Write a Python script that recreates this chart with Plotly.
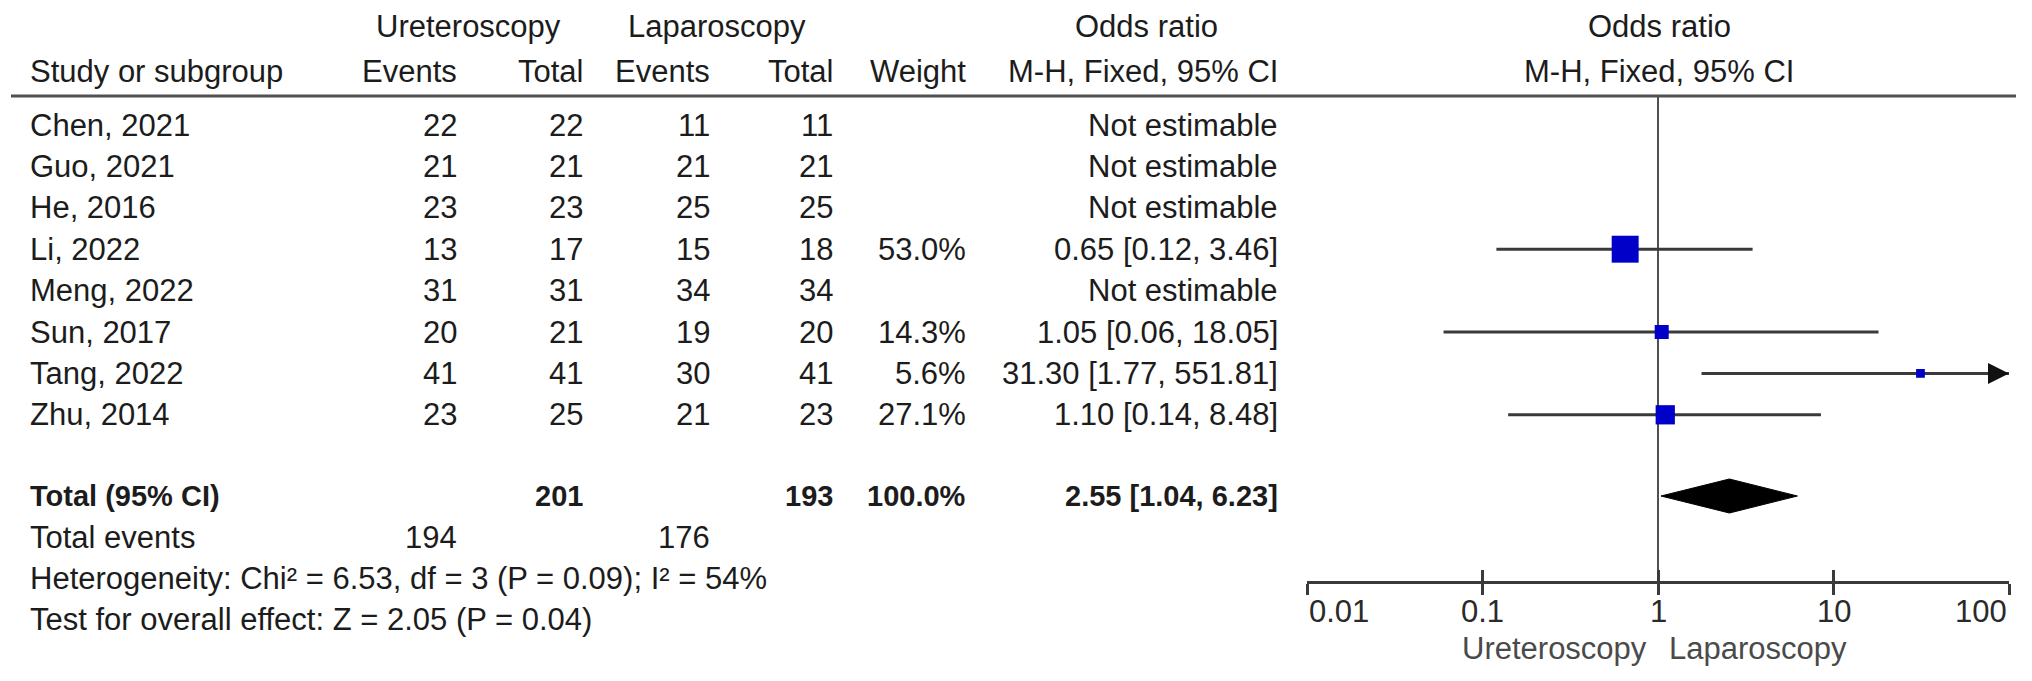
import math
import plotly.graph_objects as go

W, H = 2032, 681

# ---------------- data ----------------
studies = ["Chen, 2021", "Guo, 2021", "He, 2016", "Li, 2022", "Meng, 2022",
           "Sun, 2017", "Tang, 2022", "Zhu, 2014"]
uret_events = [22, 21, 23, 13, 31, 20, 41, 23]
uret_total = [22, 21, 23, 17, 31, 21, 41, 25]
lap_events = [11, 21, 25, 15, 34, 19, 30, 21]
lap_total = [11, 21, 25, 18, 34, 20, 41, 23]
weights = [None, None, None, 53.0, None, 14.3, 5.6, 27.1]
or_est = [None, None, None, 0.65, None, 1.05, 31.30, 1.10]
ci_lo = [None, None, None, 0.12, None, 0.06, 1.77, 0.14]
ci_hi = [None, None, None, 3.46, None, 18.05, 551.81, 8.48]

total_uret = 201
total_lap = 193
total_weight = 100.0
total_or = 2.55
total_lo = 1.04
total_hi = 6.23
events_uret = 194
events_lap = 176
heterogeneity = "Heterogeneity: Chi² = 6.53, df = 3 (P = 0.09); I² = 54%"
overall = "Test for overall effect: Z = 2.05 (P = 0.04)"

tick_vals = [0.01, 0.1, 1, 10, 100]
tick_text = ["0.01", "0.1", "1", "10", "100"]
favours_left = "Ureteroscopy"
favours_right = "Laparoscopy"
null_value = 1

# ---------------- layout constants ----------------
FONT = "Liberation Sans, Arial, sans-serif"
FS = 31
FS_BOLD = 29
TXT = "#1c1c1c"
LINE = "#3a3a3a"
BLUE = "#0000c8"

ROW0_PX = 125.0
STEP_PX = 41.4
y_top = -ROW0_PX / STEP_PX
y_bot = (H - ROW0_PX) / STEP_PX


def row_of(pix):
    return (pix - ROW0_PX) / STEP_PX


study_rows = list(range(len(studies)))
total_row = row_of(496)
events_row = row_of(537)
het_row = row_of(578)
test_row = row_of(619)
head1_row = row_of(26)
head2_row = row_of(71)
rule_row = row_of(96)
axis_px = 582
axis_row = row_of(axis_px)
ticklab_row = row_of(611)
favour_row = row_of(648)

AX_L, AX_R = 1307, 2009

# column right edges (pixels)
X_STUDY = 28
X_UE = 459
X_UT = 585
X_LE = 712
X_LT = 835
X_W = 968
X_OR = 1280

fig = go.Figure()
ann = []


def txt(x, y, s, anchor="right", bold=False, color=TXT, size=None):
    if size is None:
        size = FS_BOLD if bold else FS
    ann.append(dict(x=x / W, xref="paper", y=y, yref="y", text=(f"<b>{s}</b>" if bold else s),
                    showarrow=False, xanchor=anchor, yanchor="middle",
                    font=dict(family=FONT, size=size, color=color)))


# headers
txt(468, head1_row, "Ureteroscopy", "center")
txt(717, head1_row, "Laparoscopy", "center")
txt(1146, head1_row, "Odds ratio", "center")
txt(1659, head1_row, "Odds ratio", "center")
txt(X_STUDY, head2_row, "Study or subgroup", "left")
txt(X_UE, head2_row, "Events")
txt(X_UT, head2_row, "Total")
txt(X_LE, head2_row, "Events")
txt(X_LT, head2_row, "Total")
txt(X_W, head2_row, "Weight")
txt(X_OR, head2_row, "M-H, Fixed, 95% CI")
txt(1659, head2_row, "M-H, Fixed, 95% CI", "center")

# study rows
for i, r in enumerate(study_rows):
    txt(X_STUDY, r, studies[i], "left")
    txt(X_UE, r, str(uret_events[i]))
    txt(X_UT, r, str(uret_total[i]))
    txt(X_LE, r, str(lap_events[i]))
    txt(X_LT, r, str(lap_total[i]))
    if weights[i] is not None:
        txt(X_W, r, f"{weights[i]:.1f}%")
        txt(X_OR, r, f"{or_est[i]:.2f} [{ci_lo[i]:.2f}, {ci_hi[i]:.2f}]")
    else:
        txt(X_OR, r, "Not estimable")

# totals
txt(X_STUDY, total_row, "Total (95% CI)", "left", bold=True)
txt(X_UT, total_row, str(total_uret), bold=True)
txt(X_LT, total_row, str(total_lap), bold=True)
txt(X_W, total_row, f"{total_weight:.1f}%", bold=True)
txt(X_OR, total_row, f"{total_or:.2f} [{total_lo:.2f}, {total_hi:.2f}]", bold=True)
txt(X_STUDY, events_row, "Total events", "left")
txt(X_UE, events_row, str(events_uret))
txt(X_LE, events_row, str(events_lap))
txt(X_STUDY, het_row, heterogeneity, "left")
txt(X_STUDY, test_row, overall, "left")

# tick labels for the forest axis
for j, (v, t) in enumerate(zip(tick_vals, tick_text)):
    anchor = "left" if j == 0 else ("right" if j == len(tick_vals) - 1 else "center")
    ann.append(dict(x=math.log10(v), xref="x", y=ticklab_row, yref="y", text=t,
                    showarrow=False, xanchor=anchor, yanchor="middle",
                    font=dict(family=FONT, size=FS, color="#2a2a2a")))
ann.append(dict(x=math.log10(null_value), xref="x", y=favour_row, yref="y", text=favours_left,
                showarrow=False, xanchor="right", yanchor="middle", xshift=-9,
                font=dict(family=FONT, size=FS, color="#4a4a4a")))
ann.append(dict(x=math.log10(null_value), xref="x", y=favour_row, yref="y", text=favours_right,
                showarrow=False, xanchor="left", yanchor="middle", xshift=9,
                font=dict(family=FONT, size=FS, color="#4a4a4a")))

# null line
fig.add_trace(go.Scatter(x=[null_value, null_value], y=[rule_row, axis_row], mode="lines",
                         line=dict(color="#505050", width=2), hoverinfo="skip", showlegend=False))

# CI lines + squares
xmax = tick_vals[-1]
xmin = tick_vals[0]
for i, r in enumerate(study_rows):
    if or_est[i] is None:
        continue
    lo = max(ci_lo[i], xmin)
    hi = min(ci_hi[i], xmax)
    fig.add_trace(go.Scatter(x=[lo, hi], y=[r, r], mode="lines",
                             line=dict(color=LINE, width=3), hoverinfo="skip", showlegend=False))
    if ci_hi[i] > xmax:
        ann.append(dict(x=math.log10(xmax), xref="x", y=r, yref="y", text="", showarrow=True,
                        ax=-20, ay=0, axref="pixel", ayref="pixel", arrowhead=2, arrowsize=1.4,
                        arrowwidth=3, arrowcolor="#111111", standoff=0))

est_x = [or_est[i] for i in range(len(studies)) if or_est[i] is not None]
est_y = [study_rows[i] for i in range(len(studies)) if or_est[i] is not None]
est_w = [weights[i] for i in range(len(studies)) if or_est[i] is not None]
fig.add_trace(go.Scatter(x=est_x, y=est_y, mode="markers",
                         marker=dict(symbol="square", color=BLUE, opacity=1,
                                     size=[3.7 * math.sqrt(w) for w in est_w],
                                     line=dict(width=0)),
                         hoverinfo="skip", showlegend=False))

# diamond
dh = 17 / STEP_PX
fig.add_trace(go.Scatter(x=[total_lo, total_or, total_hi, total_or, total_lo],
                         y=[total_row, total_row - dh, total_row, total_row + dh, total_row],
                         mode="lines", fill="toself", fillcolor="#000000",
                         line=dict(color="#000000", width=1), hoverinfo="skip", showlegend=False))

# dummy trace for upper tick marks axis
fig.add_trace(go.Scatter(x=tick_vals, y=[axis_row] * len(tick_vals), xaxis="x2", mode="markers",
                         marker=dict(opacity=0), hoverinfo="skip", showlegend=False))

shapes = [dict(type="line", xref="paper", x0=11 / W, x1=2016 / W, yref="y", y0=rule_row, y1=rule_row,
               line=dict(color="#505050", width=3))]

dom = [AX_L / W, AX_R / W]
pos = 1 - axis_px / H
fig.update_layout(
    width=W, height=H, margin=dict(l=0, r=0, t=0, b=0),
    paper_bgcolor="white", plot_bgcolor="white",
    showlegend=False,
    xaxis=dict(type="log", range=[math.log10(xmin), math.log10(xmax)], domain=dom,
               anchor="free", position=pos, showline=True, linecolor=LINE, linewidth=3,
               ticks="outside", ticklen=11, tickwidth=2.5, tickcolor=LINE,
               tickvals=tick_vals, showticklabels=False, showgrid=False, zeroline=False),
    xaxis2=dict(type="log", range=[math.log10(xmin), math.log10(xmax)], domain=dom,
                overlaying="x", anchor="free", position=pos, showline=False,
                ticks="inside", ticklen=12, tickwidth=2.5, tickcolor=LINE,
                tickvals=tick_vals, showticklabels=False, showgrid=False, zeroline=False),
    yaxis=dict(range=[y_bot, y_top], domain=[0, 1], visible=False, showgrid=False, zeroline=False),
    annotations=ann, shapes=shapes,
)

fig.write_html("out.html", config={"displayModeBar": False},
               post_script="document.body.style.margin='0';document.body.style.overflow='hidden';")
